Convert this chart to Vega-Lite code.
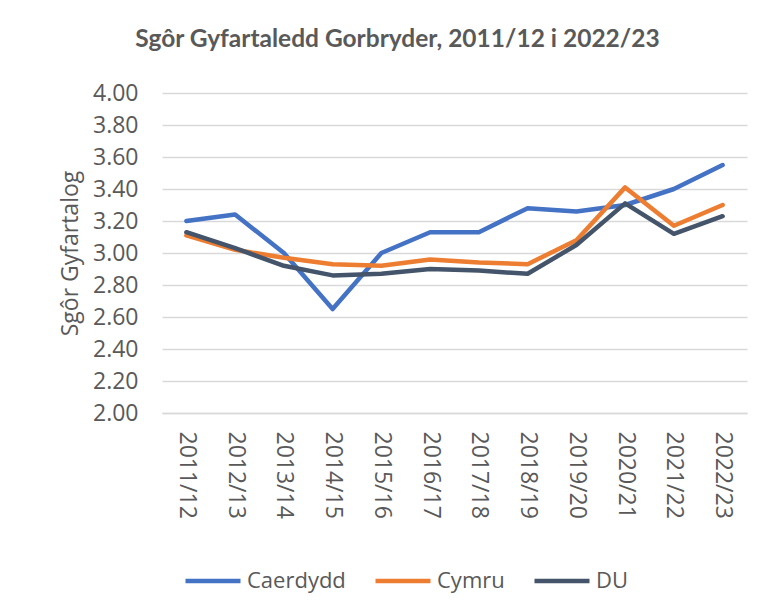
{
  "$schema": "https://vega.github.io/schema/vega-lite/v6.json",
  "autosize": "none",
  "width": 585,
  "height": 320,
  "padding": {"left": 162, "top": 93, "right": 32, "bottom": 187},
  "background": "white",
  "title": {
    "text": "Sgôr Gyfartaledd Gorbryder, 2011/12 i 2022/23",
    "font": "Lato",
    "fontSize": 24.5,
    "fontWeight": "bold",
    "color": "#595959",
    "anchor": "middle",
    "dx": -57,
    "offset": 30
  },
  "data": {
    "values": [
      {"year": "2011/12", "series": "Caerdydd", "value": 3.20},
      {"year": "2012/13", "series": "Caerdydd", "value": 3.24},
      {"year": "2013/14", "series": "Caerdydd", "value": 3.00},
      {"year": "2014/15", "series": "Caerdydd", "value": 2.65},
      {"year": "2015/16", "series": "Caerdydd", "value": 3.00},
      {"year": "2016/17", "series": "Caerdydd", "value": 3.13},
      {"year": "2017/18", "series": "Caerdydd", "value": 3.13},
      {"year": "2018/19", "series": "Caerdydd", "value": 3.28},
      {"year": "2019/20", "series": "Caerdydd", "value": 3.26},
      {"year": "2020/21", "series": "Caerdydd", "value": 3.30},
      {"year": "2021/22", "series": "Caerdydd", "value": 3.40},
      {"year": "2022/23", "series": "Caerdydd", "value": 3.55},
      {"year": "2011/12", "series": "Cymru", "value": 3.11},
      {"year": "2012/13", "series": "Cymru", "value": 3.02},
      {"year": "2013/14", "series": "Cymru", "value": 2.97},
      {"year": "2014/15", "series": "Cymru", "value": 2.93},
      {"year": "2015/16", "series": "Cymru", "value": 2.92},
      {"year": "2016/17", "series": "Cymru", "value": 2.96},
      {"year": "2017/18", "series": "Cymru", "value": 2.94},
      {"year": "2018/19", "series": "Cymru", "value": 2.93},
      {"year": "2019/20", "series": "Cymru", "value": 3.08},
      {"year": "2020/21", "series": "Cymru", "value": 3.41},
      {"year": "2021/22", "series": "Cymru", "value": 3.17},
      {"year": "2022/23", "series": "Cymru", "value": 3.30},
      {"year": "2011/12", "series": "DU", "value": 3.13},
      {"year": "2012/13", "series": "DU", "value": 3.03},
      {"year": "2013/14", "series": "DU", "value": 2.92},
      {"year": "2014/15", "series": "DU", "value": 2.86},
      {"year": "2015/16", "series": "DU", "value": 2.87},
      {"year": "2016/17", "series": "DU", "value": 2.90},
      {"year": "2017/18", "series": "DU", "value": 2.89},
      {"year": "2018/19", "series": "DU", "value": 2.87},
      {"year": "2019/20", "series": "DU", "value": 3.05},
      {"year": "2020/21", "series": "DU", "value": 3.31},
      {"year": "2021/22", "series": "DU", "value": 3.12},
      {"year": "2022/23", "series": "DU", "value": 3.23}
    ]
  },
  "mark": {"type": "line", "strokeWidth": 4.5, "strokeCap": "round", "strokeJoin": "round"},
  "encoding": {
    "x": {
      "field": "year",
      "type": "ordinal",
      "scale": {"type": "point", "padding": 0.5},
      "axis": {
        "title": null,
        "labelAngle": 90,
        "labelFont": "Open Sans",
        "labelFontSize": 23,
        "labelColor": "#595959",
        "labelPadding": 18,
        "ticks": false,
        "domainColor": "#d9d9d9",
        "domainWidth": 1.5,
        "grid": false
      }
    },
    "y": {
      "field": "value",
      "type": "quantitative",
      "scale": {"domain": [2, 4], "nice": false, "zero": false},
      "axis": {
        "title": "Sgôr Gyfartalog",
        "titleFont": "Open Sans",
        "titleFontSize": 23,
        "titleFontWeight": "normal",
        "titleColor": "#595959",
        "titlePadding": 10,
        "values": [2, 2.2, 2.4, 2.6, 2.8, 3, 3.2, 3.4, 3.6, 3.8, 4],
        "format": ".2f",
        "labelFont": "Open Sans",
        "labelFontSize": 23,
        "labelColor": "#595959",
        "labelPadding": 24,
        "ticks": false,
        "domain": false,
        "gridColor": "#d9d9d9",
        "gridWidth": 1.5
      }
    },
    "color": {
      "field": "series",
      "type": "nominal",
      "scale": {"domain": ["Caerdydd", "Cymru", "DU"], "range": ["#4472C4", "#ED7D31", "#44546A"]},
      "legend": {
        "title": null,
        "orient": "none",
        "direction": "horizontal",
        "legendX": 21,
        "legendY": 458,
        "symbolType": "stroke",
        "symbolSize": 3025,
        "symbolStrokeWidth": 4.5,
        "labelFont": "Open Sans",
        "labelFontSize": 22,
        "labelColor": "#595959",
        "labelOffset": 4,
        "columnPadding": 20
      }
    }
  },
  "config": {"view": {"stroke": null}}
}
